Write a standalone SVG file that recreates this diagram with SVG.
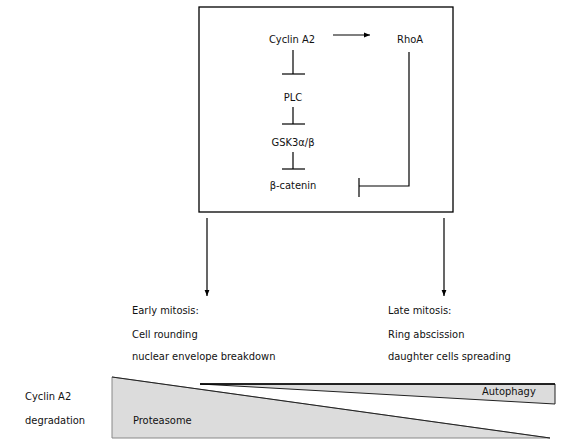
<svg xmlns="http://www.w3.org/2000/svg" width="585" height="446" viewBox="0 0 585 446">
<defs>
<marker id="ah" viewBox="0 0 10 10" refX="10" refY="5" markerWidth="6" markerHeight="6" markerUnits="userSpaceOnUse" orient="auto">
<path d="M0,1 L10,5 L0,9 Z" fill="#000"/>
</marker>
</defs>
<style>
text{font-family:"DejaVu Sans Condensed","Liberation Sans",Arial,sans-serif;font-stretch:condensed;font-size:11px;fill:#111;}
.c{text-anchor:middle;}
.ln{stroke:#000;stroke-width:1.2;fill:none;}
</style>
<rect width="585" height="446" fill="#fff"/>
<g id="box"><rect x="199" y="7" width="254" height="205" fill="none" stroke="#000" stroke-width="1.3"/></g>
<g id="cyclinA2"><text class="c" x="292" y="43">Cyclin A2</text></g>
<g id="rhoA"><text class="c" x="410" y="43">RhoA</text></g>
<g id="plc"><text class="c" x="293" y="101">PLC</text></g>
<g id="gsk3"><text class="c" x="293" y="146">GSK3α/β</text></g>
<g id="bcatenin"><text class="c" x="293" y="189">β-catenin</text></g>
<g id="early"><text x="132" y="314">Early mitosis:</text><text x="132" y="338">Cell rounding</text><text x="132" y="360">nuclear envelope breakdown</text></g>
<g id="late"><text x="388" y="314">Late mitosis:</text><text x="388" y="338">Ring abscission</text><text x="388" y="360">daughter cells spreading</text></g>
<g id="degradation"><text x="25" y="400">Cyclin A2</text><text x="25" y="424">degradation</text></g>
<g id="proteasome"><path d="M112,377 L550,438 L112,438 Z" fill="#dcdcdc" stroke="#888" stroke-width="1"/><path d="M112,377 L550,438" stroke="#222" stroke-width="1"/><text x="133" y="424">Proteasome</text></g>
<g id="autophagy"><path d="M200,384 L555,384 L555,404 Z" fill="#dcdcdc" stroke="#222" stroke-width="1"/><line x1="200" y1="384" x2="555" y2="384" stroke="#000" stroke-width="1.6"/><text x="482" y="395">Autophagy</text></g>
<g id="connectors">
<line class="ln" x1="333" y1="35" x2="370" y2="35" marker-end="url(#ah)"/>
<line class="ln" x1="293" y1="50" x2="293" y2="74"/><line class="ln" x1="282" y1="74" x2="305" y2="74"/>
<line class="ln" x1="293" y1="107" x2="293" y2="124"/><line class="ln" x1="282" y1="124" x2="305" y2="124"/>
<line class="ln" x1="293" y1="152" x2="293" y2="169"/><line class="ln" x1="282" y1="169" x2="305" y2="169"/>
<path class="ln" d="M409,52 L409,186 L359,186"/><line class="ln" x1="359" y1="178" x2="359" y2="197"/>
<line class="ln" x1="207" y1="218" x2="207" y2="296" marker-end="url(#ah)"/>
<line class="ln" x1="444" y1="218" x2="444" y2="296" marker-end="url(#ah)"/>
</g>
</svg>
